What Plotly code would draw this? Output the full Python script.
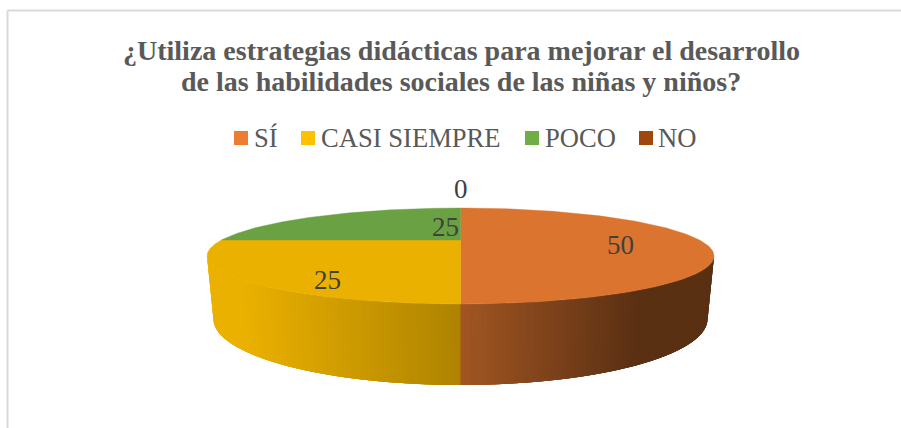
import math
import plotly.graph_objects as go

# Data
categories = ["SÍ", "CASI SIEMPRE", "POCO", "NO"]
values = [50, 25, 25, 0]
title_lines = ["¿Utiliza estrategias didácticas para mejorar el desarrollo",
               "de las habilidades sociales de las niñas y niños?"]

# Styles
top_colors = ["#DB742E", "#EBB100", "#6AA143", "#9E480E"]
legend_colors = ["#ED7D31", "#FFC000", "#70AD47", "#9E480E"]
FONT = "Liberation Serif"

# Layout of the drawn 3D pie, in plot pixels
W, H = 901, 428
CX, TOP_CY, TOP_RX, TOP_RY = 460.5, 256, 253.5, 48
BOT_CY, BOT_RX, BOT_RY = 319, 247, 66
A = 1 / 3  # perspective
legend_marks = [234, 301, 525, 639]
legend_text = [254, 321, 545, 658]
label_pos = [(620, 245), (327, 280), (445, 227), (461, 189)]


def project(theta):
    u, v = math.sin(theta), math.cos(theta)
    d = 1 + A * v
    return u * math.sqrt(1 - A * A) / d, (v + A) / d


def top_pt(theta):
    s, t = project(theta)
    return CX + TOP_RX * s, TOP_CY - TOP_RY * t


def bot_pt(theta):
    s, t = project(theta)
    return CX + BOT_RX * s, BOT_CY - BOT_RY * t


def shade(x):
    if x <= 240:
        return 1.0
    if x <= 460:
        return 1 - 0.26 * (x - 240) / 220
    if x <= 640:
        return 0.74 - 0.33 * (x - 460) / 180
    return 0.41


def shaded(hex_color, f):
    r, g, b = (int(hex_color[i:i + 2], 16) for i in (1, 3, 5))
    return f"rgb({r * f:.0f},{g * f:.0f},{b * f:.0f})"


fig = go.Figure()
total = sum(values)
front_lo = math.pi - math.acos(A)
front_hi = math.pi + math.acos(A)

# Slice angle spans, clockwise from 12 o'clock
spans = []
acc = 0
for val in values:
    spans.append((acc / total * 2 * math.pi, (acc + val) / total * 2 * math.pi))
    acc += val

# Side wall, drawn as thin shaded bands, left to right; each overlaps the next
bands = []
for (a0, a1), color in zip(spans, top_colors):
    lo, hi = max(a0, front_lo), min(a1, front_hi)
    if hi <= lo:
        continue
    n = max(2, int((hi - lo) / (front_hi - front_lo) * 200))
    for i in range(n):
        t0 = lo + (hi - lo) * i / n
        t1 = lo + (hi - lo) * (i + 1) / n
        bands.append((t0, t1, color, (hi - lo) / n))
bands.sort(key=lambda b: -b[0])
for t0, t1, color, step in bands:
    t_end = max(front_lo, t0 - 3 * step)
    samples = [t1 + (t_end - t1) * k / 4 for k in range(5)]
    tops = [top_pt(t) for t in samples]
    bots = [bot_pt(t) for t in samples][::-1]
    outline = tops + bots + tops[:1]
    xmid = (top_pt(t0)[0] + top_pt(t1)[0]) / 2
    c = shaded(color, shade(xmid))
    fig.add_trace(go.Scatter(
        x=[p[0] for p in outline], y=[p[1] for p in outline],
        mode="lines", fill="toself", fillcolor=c,
        line=dict(color=c, width=0),
        hoverinfo="skip", showlegend=False))

# Top face
for (a0, a1), color, name, val in zip(spans, top_colors, categories, values):
    if a1 <= a0:
        continue
    n = 120
    pts = [top_pt(a0 + (a1 - a0) * i / n) for i in range(n + 1)]
    cx, cy = top_pt(0)[0], TOP_CY - TOP_RY * A
    xs = [cx] + [p[0] for p in pts] + [cx]
    ys = [cy] + [p[1] for p in pts] + [cy]
    fig.add_trace(go.Scatter(
        x=xs, y=ys, mode="lines", fill="toself", fillcolor=color,
        line=dict(color=color, width=0.4), name=name,
        hovertemplate=f"{name}: {val}<extra></extra>", showlegend=False))

annotations = []
for val, (lx, ly) in zip(values, label_pos):
    annotations.append(dict(x=lx, y=ly, text=str(val), showarrow=False,
                            xref="x", yref="y",
                            font=dict(family=FONT, size=27, color="#404040")))
for name, tx in zip(categories, legend_text):
    annotations.append(dict(x=tx, y=138, text=name, showarrow=False, xanchor="left",
                            xref="x", yref="y", xshift=-2,
                            font=dict(family=FONT, size=26.6, color="#595959")))
for line, ly in zip(title_lines, (50, 81.5)):
    annotations.append(dict(x=461, y=ly, text=f"<b>{line}</b>", showarrow=False,
                            xref="x", yref="y",
                            font=dict(family=FONT, size=28, color="#595959")))

shapes = [
    dict(type="line", x0=7.5, x1=901, y0=10.5, y1=10.5, xref="x", yref="y",
         line=dict(color="#D9D9D9", width=2)),
    dict(type="line", x0=7.5, x1=7.5, y0=10.5, y1=428, xref="x", yref="y",
         line=dict(color="#D9D9D9", width=2)),
]
for mx, col in zip(legend_marks, legend_colors):
    shapes.append(dict(type="rect", x0=mx, x1=mx + 14, y0=131, y1=145, xref="x", yref="y",
                       fillcolor=col, line=dict(width=0)))

fig.update_layout(
    width=W, height=H, margin=dict(l=0, r=0, t=0, b=0),
    paper_bgcolor="white", plot_bgcolor="white", showlegend=False,
    xaxis=dict(range=[0, W], visible=False, fixedrange=True),
    yaxis=dict(range=[H, 0], visible=False, fixedrange=True),
    annotations=annotations, shapes=shapes,
)
fig.write_html("out.html", config=dict(displayModeBar=False),
               post_script="document.body.style.margin='0';document.body.style.overflow='hidden';")
